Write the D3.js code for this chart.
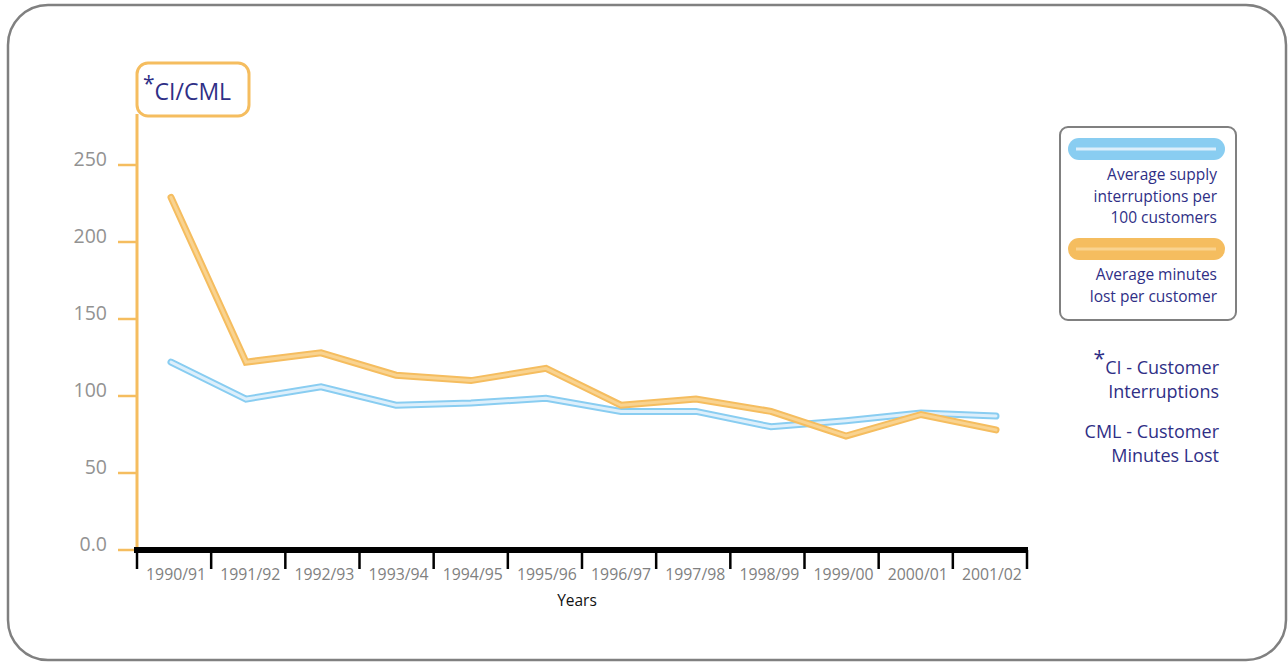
<!DOCTYPE html>
<html>
<head>
<meta charset="utf-8">
<script src="https://cdn.jsdelivr.net/npm/d3@7"></script>
<style>
  html, body { margin: 0; padding: 0; background: #fff; }
  svg { display: block; font-family: "Open Sans", "Noto Sans", sans-serif; }
</style>
</head>
<body>
<svg id="chart" width="1288" height="662"></svg>
<script>
// Financial years on the x axis
const years = ["1990/91","1991/92","1992/93","1993/94","1994/95","1995/96",
               "1996/97","1997/98","1998/99","1999/00","2000/01","2001/02"];
// Average supply interruptions per 100 customers (CI)
const ciValues  = [122, 98, 106, 94, 95.5, 98.5, 90, 90, 80, 84, 89, 87];
// Average minutes lost per customer (CML)
const cmlValues = [229, 122, 128, 113.5, 110, 118, 94, 98, 90, 74, 88, 78];
// Y axis ticks
const yTicks = [0, 50, 100, 150, 200, 250];

const navy = "#2f2f86";
const orange = "#f5bd5f", orangeLight = "#f9d390";
const blue = "#89cdf1", blueLight = "#ddeffb";

const svg = d3.select("#chart");

// Outer rounded frame
svg.append("rect")
  .attr("x", 8).attr("y", 5).attr("width", 1278).attr("height", 655)
  .attr("rx", 40).attr("ry", 40)
  .attr("fill", "#fff").attr("stroke", "#808080").attr("stroke-width", 2.5);

const y = d3.scaleLinear().domain([0, 250]).range([550, 165]);
const xBand = d3.scaleBand().domain(years).range([137, 1027]);
const xPoint = d3.scalePoint().domain(years).range([171, 996]);

// Y axis: orange spine with ticks to the left
const yAxis = svg.append("g");
yAxis.append("line")
  .attr("x1", 137).attr("x2", 137).attr("y1", 114).attr("y2", 551)
  .attr("stroke", orange).attr("stroke-width", 3);
yAxis.selectAll("line.tick").data(yTicks).join("line")
  .attr("class", "tick")
  .attr("x1", 118).attr("x2", 137)
  .attr("y1", d => y(d)).attr("y2", d => y(d))
  .attr("stroke", orange).attr("stroke-width", 2.5);
yAxis.selectAll("text").data(yTicks).join("text")
  .attr("x", 107).attr("y", d => y(d) + 1)
  .attr("text-anchor", "end")
  .attr("font-size", 19.5).attr("fill", "#929292")
  .text(d => d === 0 ? "0.0" : d);

// CI/CML title box
svg.append("rect")
  .attr("x", 137).attr("y", 63).attr("width", 112).attr("height", 53)
  .attr("rx", 11).attr("fill", "#fff")
  .attr("stroke", orange).attr("stroke-width", 3);
const ttl = svg.append("text").attr("x", 143).attr("y", 100)
  .attr("fill", navy).attr("font-size", 23);
ttl.append("tspan").attr("dy", -9).attr("font-size", 21).text("*");
ttl.append("tspan").attr("dy", 9).text("CI/CML");

// X axis: thick black line with band boundaries
const xAxis = svg.append("g");
xAxis.append("line")
  .attr("x1", 134).attr("x2", 1028).attr("y1", 550).attr("y2", 550)
  .attr("stroke", "#000").attr("stroke-width", 6);
const bounds = years.map(d => xBand(d)).concat([xBand.range()[1]]);
xAxis.selectAll("line.tick").data(bounds).join("line")
  .attr("class", "tick")
  .attr("x1", d => d).attr("x2", d => d)
  .attr("y1", 550).attr("y2", 569)
  .attr("stroke", "#000").attr("stroke-width", 2.5);
xAxis.selectAll("text").data(years).join("text")
  .attr("x", d => xBand(d) + xBand.bandwidth() / 2 + 2)
  .attr("y", 580)
  .attr("text-anchor", "middle")
  .attr("font-size", 15.5).attr("fill", "#808080")
  .attr("textLength", 60).attr("lengthAdjust", "spacingAndGlyphs")
  .text(d => d);
svg.append("text")
  .attr("x", 577).attr("y", 606).attr("text-anchor", "middle")
  .attr("font-size", 15.5).attr("fill", "#111").text("Years");

// Double-stroked lines: darker outer band with a lighter core
const line = d3.line().x((d, i) => xPoint(years[i])).y(d => y(d));
function drawSeries(vals, outer, inner) {
  svg.append("path").datum(vals).attr("d", line)
    .attr("fill", "none").attr("stroke", outer).attr("stroke-width", 7)
    .attr("stroke-linejoin", "miter").attr("stroke-linecap", "round");
  svg.append("path").datum(vals).attr("d", line)
    .attr("fill", "none").attr("stroke", inner).attr("stroke-width", 3)
    .attr("stroke-linejoin", "miter").attr("stroke-linecap", "round");
}
drawSeries(ciValues, blue, blueLight);
drawSeries(cmlValues, orange, orangeLight);

// Legend box
const lg = svg.append("g");
lg.append("rect")
  .attr("x", 1060).attr("y", 127).attr("width", 176).attr("height", 193)
  .attr("rx", 8).attr("fill", "#fff")
  .attr("stroke", "#808080").attr("stroke-width", 2);
const legendItems = [
  { color: blue, light: blueLight, top: 138, lines: ["Average supply", "interruptions per", "100 customers"] },
  { color: orange, light: orangeLight, top: 238, lines: ["Average minutes", "lost per customer"] }
];
legendItems.forEach(it => {
  lg.append("rect")
    .attr("x", 1068).attr("y", it.top).attr("width", 157).attr("height", 22)
    .attr("rx", 11).attr("fill", it.color);
  lg.append("line")
    .attr("x1", 1076).attr("x2", 1216)
    .attr("y1", it.top + 11).attr("y2", it.top + 11)
    .attr("stroke", it.light).attr("stroke-width", 3);
  lg.selectAll(null).data(it.lines).join("text")
    .attr("x", 1217).attr("y", (d, i) => it.top + 42 + i * 21.5)
    .attr("text-anchor", "end").attr("font-size", 15.5).attr("fill", navy)
    .text(d => d);
});

// Abbreviation notes
const notes = svg.append("g").attr("fill", navy).attr("font-size", 18)
  .attr("text-anchor", "end");
const n1 = notes.append("text").attr("x", 1219).attr("y", 374);
n1.append("tspan").attr("dy", -8).attr("font-size", 21).text("*");
n1.append("tspan").attr("dy", 8).text("CI - Customer");
notes.append("text").attr("x", 1219).attr("y", 398).text("Interruptions");
notes.append("text").attr("x", 1219).attr("y", 438).text("CML - Customer");
notes.append("text").attr("x", 1219).attr("y", 462).text("Minutes Lost");
</script>
</body>
</html>
